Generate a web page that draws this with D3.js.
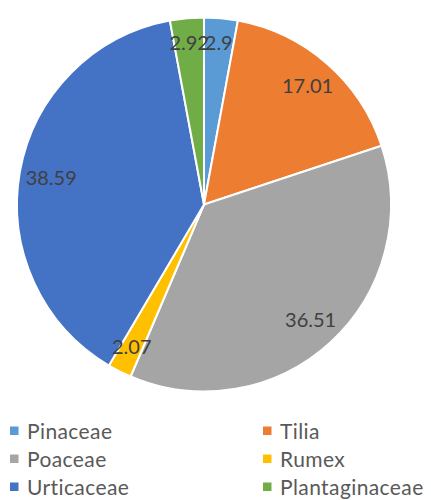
<!DOCTYPE html>
<html lang="en">
<head>
    <meta charset="utf-8" />
    <title>Pollen pie</title>
    <script src="https://d3js.org/d3.v7.min.js"></script>
    <style>
        body { margin: 0; background: #fff; }
        text { font-family: Lato, "Open Sans", sans-serif; }
    </style>
</head>
<body>
    <script>
        // data
        const categories = ["Pinaceae", "Tilia", "Poaceae", "Rumex", "Urticaceae", "Plantaginaceae"];
        const values = [2.9, 17.01, 36.51, 2.07, 38.59, 2.92];
        const colors = ["#5B9BD5", "#ED7D31", "#A5A5A5", "#FFC000", "#4472C4", "#70AD47"];

        const width = 431, height = 500;
        const cx = 204, cy = 204.5, radius = 187;

        const svg = d3.select("body").append("svg")
            .attr("width", width)
            .attr("height", height);

        const data = categories.map((c, i) => ({ name: c, value: values[i], color: colors[i] }));

        const pie = d3.pie().value(d => d.value).sort(null);
        const arc = d3.arc().innerRadius(0).outerRadius(radius);

        const g = svg.append("g").attr("transform", `translate(${cx},${cy})`);
        const arcs = pie(data);

        g.selectAll("path")
            .data(arcs)
            .join("path")
            .attr("d", arc)
            .attr("fill", d => d.data.color)
            .attr("stroke", "#fff")
            .attr("stroke-width", 2)
            .attr("stroke-linejoin", "round");

        // labels near the outer edge, pulled in a bit more where the text is wide
        const labels = g.selectAll("text.lbl")
            .data(arcs)
            .join("text")
            .attr("class", "lbl")
            .attr("text-anchor", "middle")
            .attr("dy", "0.35em")
            .attr("font-size", 20)
            .attr("fill", "#404040")
            .text(d => d.data.value);

        labels.each(function (d) {
            const w = this.getComputedTextLength();
            const a = (d.startAngle + d.endAngle) / 2;
            const r = radius * 0.87 - (w / 2) * Math.abs(Math.sin(a)) * 0.3;
            d3.select(this).attr("x", r * Math.sin(a)).attr("y", -r * Math.cos(a));
        });

        // legend
        const legX = d3.scalePoint().domain([0, 1]).range([10, 263]);
        const legY = d3.scalePoint().domain([0, 1, 2]).range([431, 487]);

        const leg = svg.selectAll("g.leg")
            .data(data)
            .join("g")
            .attr("class", "leg")
            .attr("transform", (d, i) => `translate(${legX(i % 2)},${legY(Math.floor(i / 2))})`);

        leg.append("rect")
            .attr("x", 0).attr("y", -4.5)
            .attr("width", 8.5).attr("height", 8.5)
            .attr("fill", d => d.color);

        leg.append("text")
            .attr("x", 17)
            .attr("dy", "0.36em")
            .attr("font-size", 21)
            .attr("letter-spacing", 0.4)
            .attr("fill", "#595959")
            .text(d => d.name);
    </script>
</body>
</html>
